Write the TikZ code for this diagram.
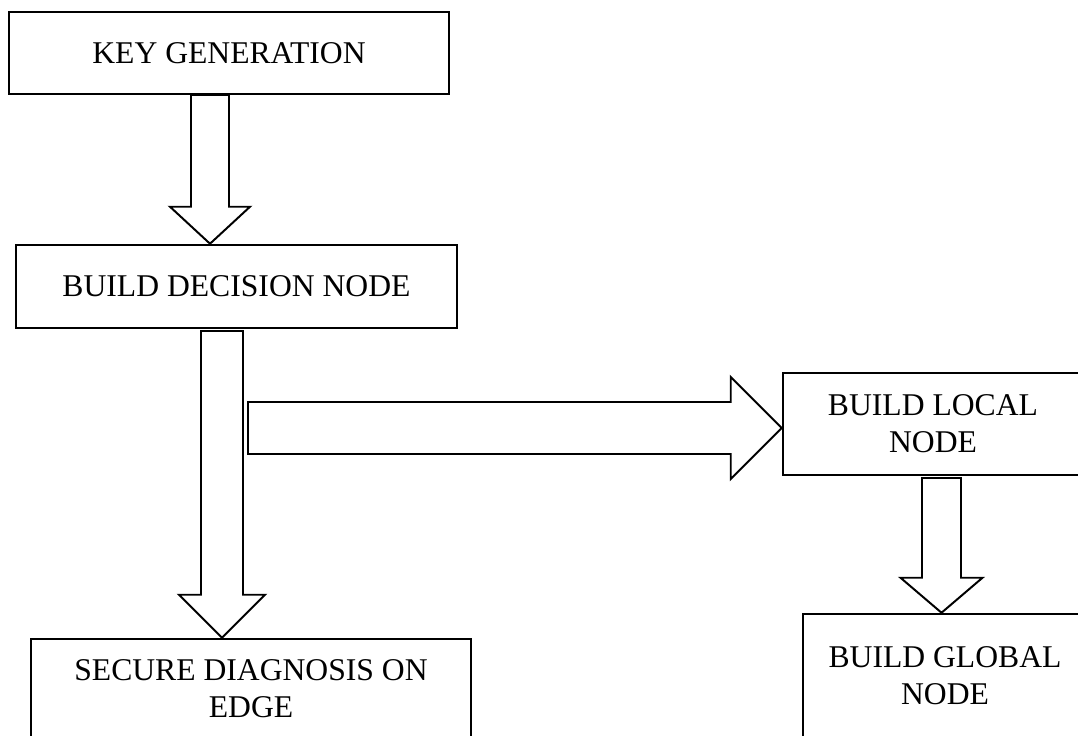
\documentclass[tikz,border=0pt]{standalone}
\usepackage{fontspec}
\setmainfont{Liberation Serif}
\usetikzlibrary{calc}

\newcommand{\pxu}{0.025cm}
\newcommand{\vblock}[5]{%
  \draw[blockarrow] ($(#1)+(-#3,0)$) -- ($(#2)+(-#3,-#5)$) -- ($(#2)+(-#4,-#5)$) -- (#2)
    -- ($(#2)+(#4,-#5)$) -- ($(#2)+(#3,-#5)$) -- ($(#1)+(#3,0)$) -- cycle;}
\newcommand{\hblock}[5]{%
  \draw[blockarrow] ($(#1)+(0,-#3)$) -- ($(#2)+(-#5,-#3)$) -- ($(#2)+(-#5,-#4)$) -- (#2)
    -- ($(#2)+(-#5,#4)$) -- ($(#2)+(-#5,#3)$) -- ($(#1)+(0,#3)$) -- cycle;}

\begin{document}
\begin{tikzpicture}[x=0.025cm, y=-0.025cm,
  box/.style={draw, line width=1.8pt, inner sep=0pt, align=center, font=\fontsize{22.5}{26.3}\selectfont},
  blockarrow/.style={draw, line width=1.4pt, fill=white, line join=miter}]
\useasboundingbox (0,0) rectangle (1078,736);
\clip (0,0) rectangle (1078,736);
\node[box, minimum width=440*\pxu, minimum height=82*\pxu] (key) at (229,53) {KEY GENERATION};
\node[box, minimum width=441*\pxu, minimum height=83*\pxu] (dec) at (236.5,286.5) {BUILD DECISION NODE};
\node[box, minimum width=440*\pxu, minimum height=99*\pxu] (sec) at (251,688.5) {SECURE DIAGNOSIS ON\\EDGE};
\node[box, minimum width=300*\pxu, minimum height=102*\pxu] (loc) at (933,424) {BUILD LOCAL\\NODE};
\node[box, minimum width=284*\pxu, minimum height=123*\pxu] (glo) at (945,675.5) {BUILD GLOBAL\\NODE};
\coordinate (s1) at (210,95);
\coordinate (t1) at (s1 |- dec.north);
\coordinate (s2) at (222,331);
\coordinate (t2) at (s2 |- sec.north);
\coordinate (s3) at (248,428);
\coordinate (t3) at (s3 -| loc.west);
\coordinate (s4) at (941.5,478);
\coordinate (t4) at (s4 |- glo.north);
\vblock{s1}{t1}{19}{40}{37}
\vblock{s2}{t2}{21}{43}{43}
\hblock{s3}{t3}{26}{51}{51}
\vblock{s4}{t4}{19.5}{41}{35}
\end{tikzpicture}
\end{document}
